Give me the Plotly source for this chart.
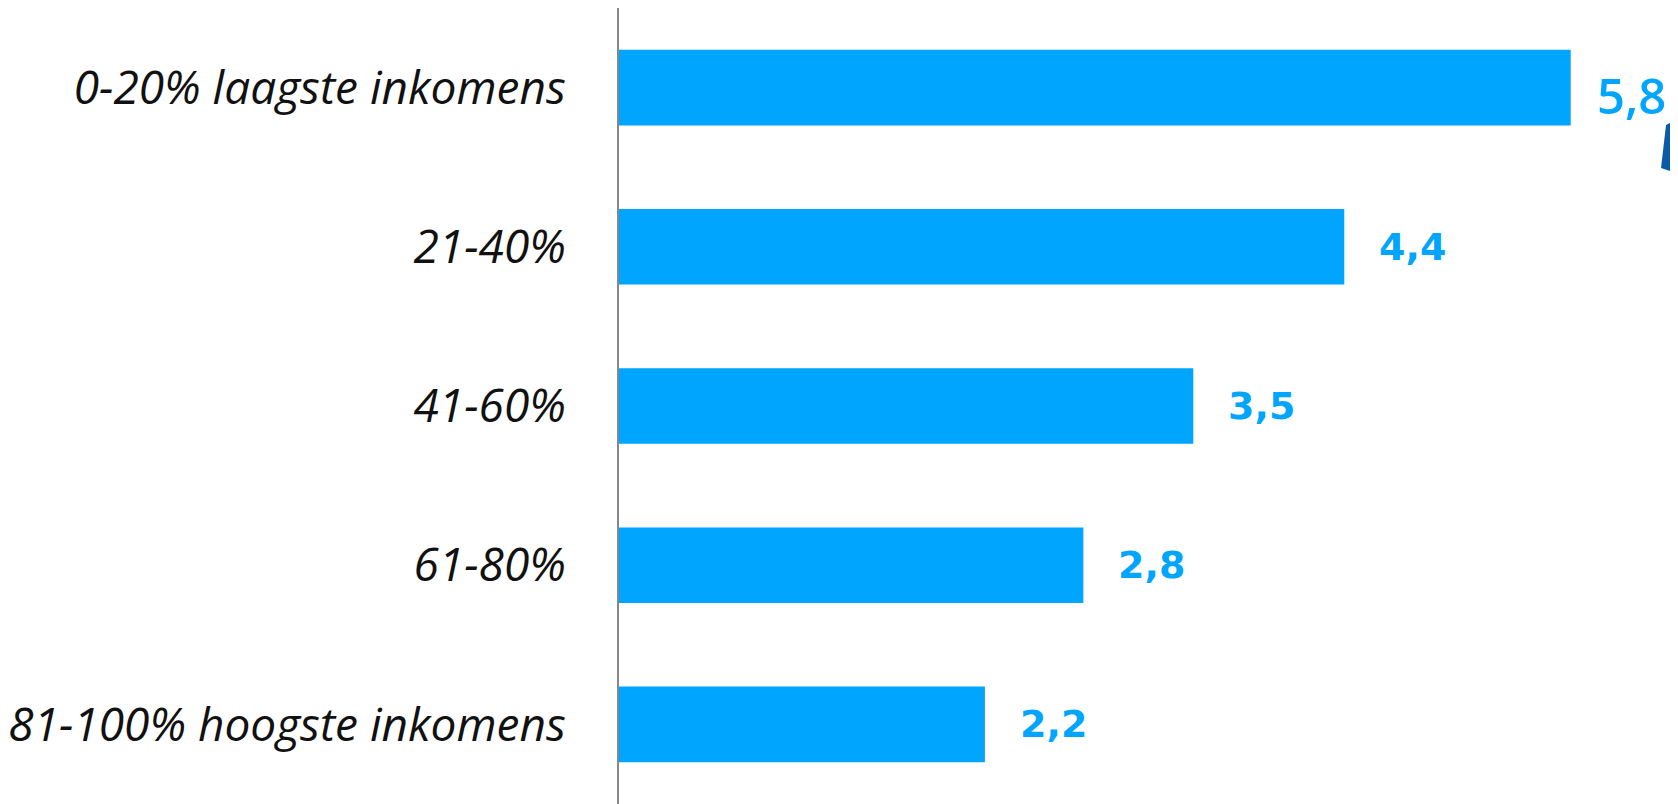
import plotly.graph_objects as go

categories = ["0-20% laagste inkomens", "21-40%", "41-60%", "61-80%", "81-100% hoogste inkomens"]
values = [5.8, 4.42, 3.5, 2.83, 2.23]
value_labels = ["5,8", "4,4", "3,5", "2,8", "2,2"]

BAR = "#00a5fe"
W, H = 1670, 796
ML, MT, MB = 609, 0, 0
PX_PER_UNIT = 164.4
XMAX = (W - ML) / PX_PER_UNIT

fig = go.Figure()
fig.add_trace(go.Bar(
    x=values, y=categories, orientation="h",
    marker=dict(color=BAR, line=dict(width=0)),
    hoverinfo="skip",
))

for i, (v, t) in enumerate(zip(values, value_labels)):
    first = i == 0
    fig.add_annotation(
        x=v, y=categories[i], xref="x", yref="y",
        text=t, showarrow=False, xanchor="left", yanchor="middle",
        xshift=24 if first else 33, yshift=-7 if first else 0,
        font=dict(family="Open Sans" if first else "DejaVu Sans",
                  size=49 if first else 38, color=BAR,
                  weight=600 if first else 700),
    )

# dark logo fragment at the right edge (pixel -> paper coordinates)
plot_h = H - MT - MB
def px(xp, yp):
    return (xp - ML) / (W - ML), 1 - (yp - MT) / plot_h

pts = [px(1658, 117), px(1662, 115), px(1662, 163), px(1653, 160)]
path = "M " + " L ".join(f"{a:.5f},{b:.5f}" for a, b in pts) + " Z"
fig.add_shape(type="path", path=path, xref="paper", yref="paper", layer="above",
              fillcolor="#0a5aa5", line=dict(width=0))

fig.update_layout(
    width=W, height=H,
    margin=dict(l=ML, r=0, t=MT, b=MB),
    plot_bgcolor="white", paper_bgcolor="white",
    showlegend=False, bargap=0.525,
    xaxis=dict(range=[0, XMAX], visible=False, showgrid=False, zeroline=False),
    yaxis=dict(
        autorange=False, range=[4.5, -0.5], categoryorder="array", categoryarray=categories,
        showgrid=False, zeroline=False, showline=True, linecolor="#878787", linewidth=2,
        ticks="", ticklabelstandoff=42,
        tickfont=dict(family="Open Sans", size=46, color="#111111", style="italic"),
    ),
)

fig.write_html("out.html")
